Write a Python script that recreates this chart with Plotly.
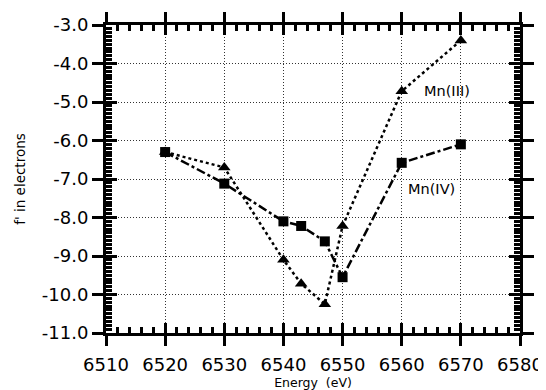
import plotly.graph_objects as go

energy = [6520, 6530, 6540, 6543, 6547, 6550, 6560, 6570]
mn3 = [-6.3, -6.7, -9.1, -9.72, -10.25, -8.22, -4.72, -3.4]
mn4 = [-6.3, -7.12, -8.1, -8.22, -8.62, -9.55, -6.58, -6.1]

x_ticks = [6510, 6520, 6530, 6540, 6550, 6560, 6570, 6580]
x_labels = [str(v) for v in x_ticks]
y_ticks = [-3, -4, -5, -6, -7, -8, -9, -10, -11]
y_labels = ["-3.0", "-4.0", "-5.0", "-6.0", "-7.0", "-8.0", "-9.0", "-10.0", "-11.0"]

FONT = "DejaVu Sans, Liberation Sans, Arial, sans-serif"

fig = go.Figure()
fig.add_trace(go.Scatter(x=energy, y=mn3, mode="lines+markers", name="Mn(III)",
                         line=dict(color="black", width=2.5, dash="dot"),
                         marker=dict(symbol="triangle-up", size=11, color="black")))
fig.add_trace(go.Scatter(x=energy, y=mn4, mode="lines+markers", name="Mn(IV)",
                         line=dict(color="black", width=2.5, dash="dashdot"),
                         marker=dict(symbol="square", size=10, color="black")))
# helper trace to activate overlay axes for inner ticks
fig.add_trace(go.Scatter(x=[None], y=[None], xaxis="x2", yaxis="y2",
                         showlegend=False, hoverinfo="skip"))

xr = [6510, 6580]
yr = [-11, -3]

fig.update_layout(
    width=538, height=382,
    margin=dict(l=98, r=26, t=17, b=57),
    paper_bgcolor="white", plot_bgcolor="white",
    showlegend=False,
    font=dict(family=FONT, color="black"),
    xaxis=dict(range=xr, tickvals=x_ticks, ticktext=x_labels, automargin=False,
               ticks="outside", ticklen=10, tickwidth=3, tickcolor="black",
               ticklabelstandoff=3,
               showline=True, linewidth=3, linecolor="black", mirror="ticks",
               showgrid=True, gridcolor="#333", gridwidth=1, griddash="1px,2px",
               zeroline=False, tickfont=dict(size=18),
               title=dict(text="Energy  (eV)", font=dict(size=12.5), standoff=0)),
    yaxis=dict(range=yr, tickvals=y_ticks, ticktext=y_labels, automargin=False,
               ticks="outside", ticklen=11, tickwidth=3, tickcolor="black",
               showline=True, linewidth=3, linecolor="black", mirror="ticks",
               showgrid=True, gridcolor="#333", gridwidth=1, griddash="1px,2px",
               zeroline=False, tickfont=dict(size=18),
               title=dict(text="f' in electrons", font=dict(size=13.5), standoff=14)),
    xaxis2=dict(range=xr, overlaying="x", anchor="y2", side="bottom", automargin=False,
                tickvals=x_ticks, ticks="inside", ticklen=10, tickwidth=3,
                tickcolor="black", mirror="ticks", showticklabels=False,
                showline=False, showgrid=False, zeroline=False,
                minor=dict(dtick=2, tick0=6510, ticks="inside", ticklen=6,
                           tickwidth=2.5, tickcolor="black", showgrid=False)),
    yaxis2=dict(range=yr, overlaying="y", anchor="x2", side="left", automargin=False,
                tickvals=y_ticks, ticks="inside", ticklen=11, tickwidth=3,
                tickcolor="black", mirror="ticks", showticklabels=False,
                showline=False, showgrid=False, zeroline=False,
                minor=dict(dtick=0.1, tick0=-11, ticks="inside", ticklen=6,
                           tickwidth=2.5, tickcolor="black", showgrid=False)),
    annotations=[
        dict(x=6567.7, y=-4.71, text="Mn(III)", showarrow=False,
             font=dict(size=14.5, family=FONT)),
        dict(x=6565.0, y=-7.26, text="Mn(IV)", showarrow=False,
             font=dict(size=14.5, family=FONT)),
    ],
)

fig.write_html("out.html")
